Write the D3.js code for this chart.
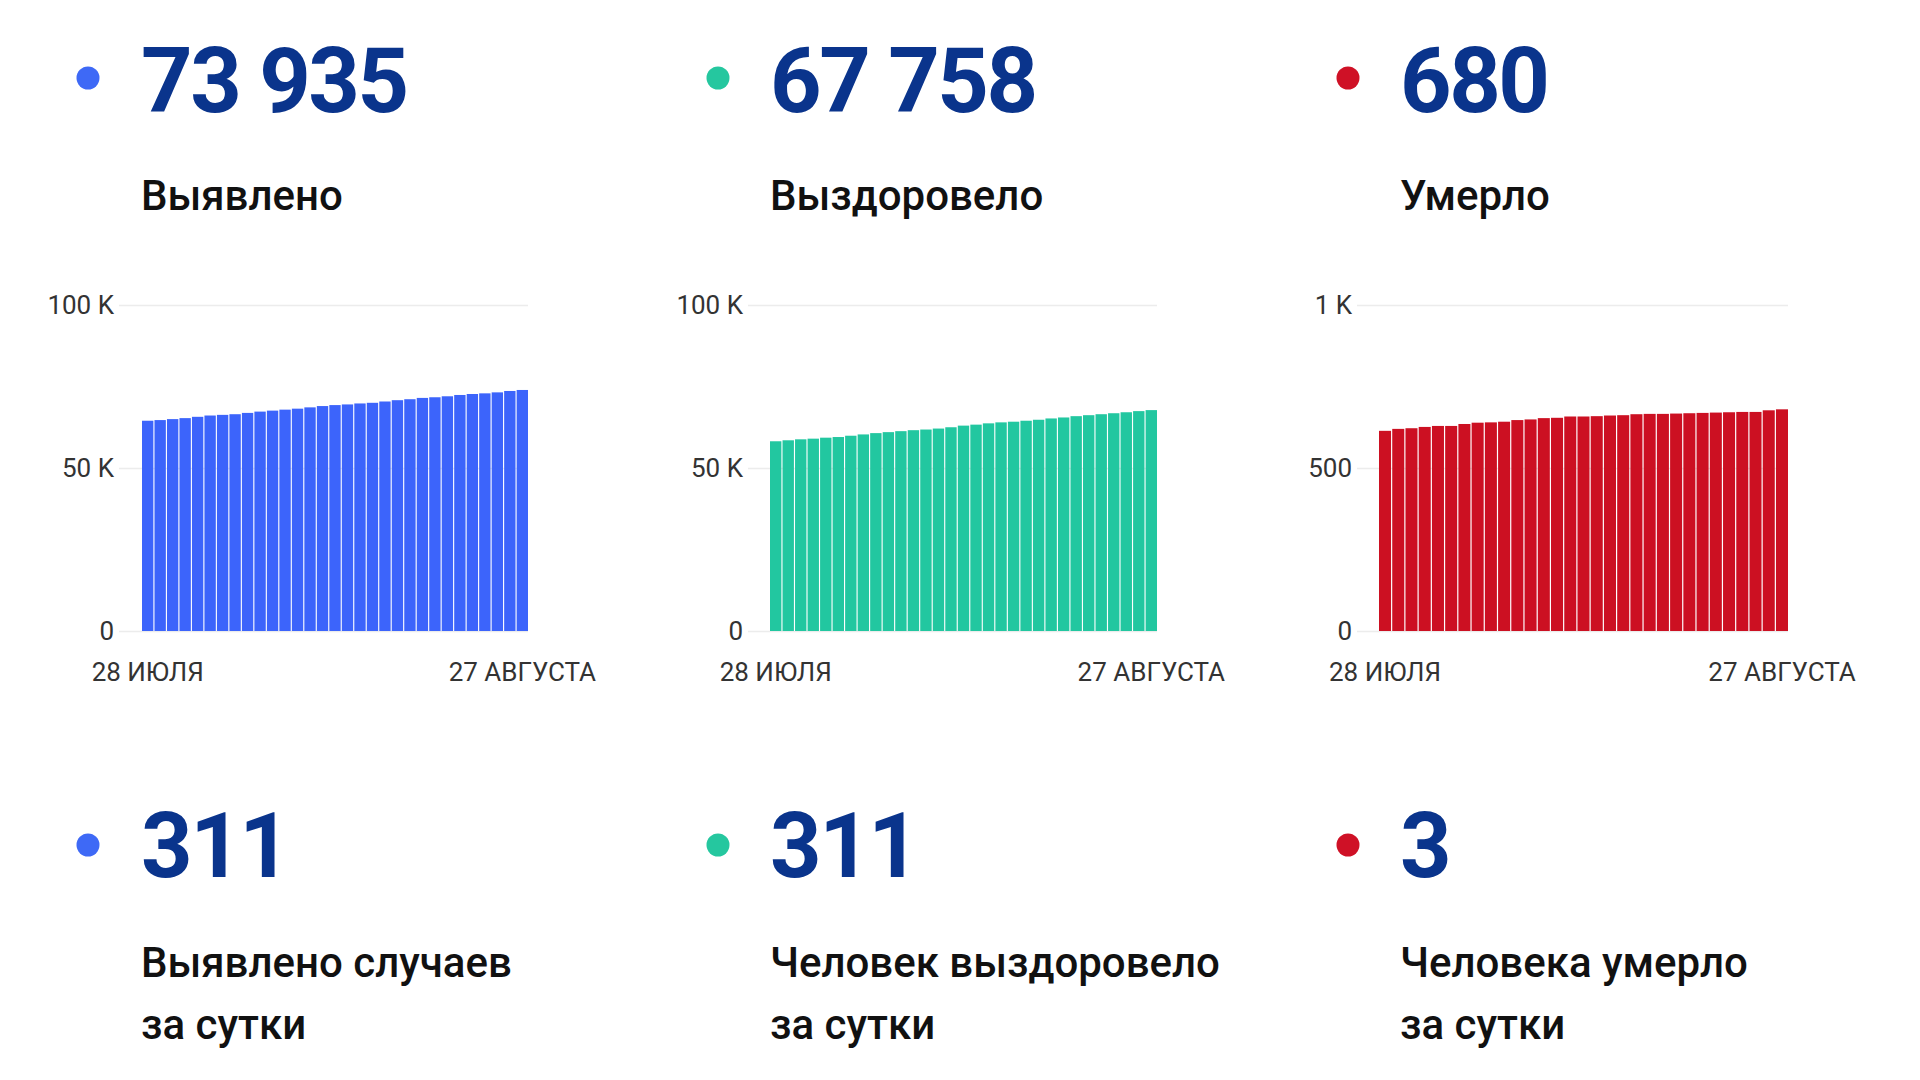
<!DOCTYPE html>
<html><head><meta charset="utf-8">
<script src="https://cdn.jsdelivr.net/npm/d3@7"></script>
<style>
html,body{margin:0;padding:0;background:#fff;}
svg{display:block;font-family:Roboto,"Noto Sans",sans-serif;}
</style></head>
<body>
<svg id="c" width="1920" height="1080"></svg>
<script>
// ---- data ----
const tickLabels = ["28 ИЮЛЯ", "27 АВГУСТА"];
const totals = ["73 935", "67 758", "680"];
const totalLabels = ["Выявлено", "Выздоровело", "Умерло"];
const daily = ["311", "311", "3"];
const dailyLabels = [["Выявлено случаев", "за сутки"], ["Человек выздоровело", "за сутки"], ["Человека умерло", "за сутки"]];
const cases = [64500, 64700, 65000, 65300, 65700, 66100, 66300, 66500, 66900, 67300, 67600, 67900, 68200, 68600, 69000, 69300, 69500, 69800, 70000, 70400, 70800, 71100, 71500, 71700, 72000, 72400, 72700, 72900, 73200, 73624, 73935];
const recovered = [58200, 58500, 58800, 59000, 59300, 59500, 59900, 60300, 60700, 61000, 61300, 61600, 61800, 62100, 62500, 63000, 63300, 63700, 64000, 64200, 64500, 64800, 65200, 65500, 65900, 66200, 66500, 66800, 67100, 67447, 67758];
const deaths = [614, 620, 622, 626, 629, 629, 635, 639, 640, 642, 647, 649, 653, 654, 658, 658, 659, 661, 662, 665, 666, 666, 667, 668, 669, 670, 671, 672, 672, 677, 680];
const yTicks1 = [0, 50000, 100000];
const yTickLabels1 = ["0", "50 K", "100 K"];
const yTicks3 = [0, 500, 1000];
const yTickLabels3 = ["0", "500", "1 K"];

const days = d3.timeDay.range(new Date(2020, 6, 28), new Date(2020, 7, 28));

const svg = d3.select("#c");
const numColor = "#0a348c";
const panels = [
  {series: cases, color: "#3c64fb", dot: "#3e69f6", ticks: yTicks1, tl: yTickLabels1, max: 100000, gx0: 119, bx0: 142, bx1: 528, colX: 141, dotX: 88},
  {series: recovered, color: "#22c7a0", dot: "#25c79f", ticks: yTicks1, tl: yTickLabels1, max: 100000, gx0: 748, bx0: 770, bx1: 1157, colX: 770, dotX: 718},
  {series: deaths, color: "#cc1022", dot: "#cf1126", ticks: yTicks3, tl: yTickLabels3, max: 1000, gx0: 1357, bx0: 1379, bx1: 1788, colX: 1400, dotX: 1348}
];

const y0 = 631, y1 = 305;

panels.forEach((p, i) => {
  // headline numbers
  svg.append("circle").attr("cx", p.dotX).attr("cy", 78).attr("r", 11.5).attr("fill", p.dot);
  svg.append("text").attr("x", p.colX).attr("y", 112).attr("fill", numColor)
    .attr("font-size", 90).attr("font-weight", 700).attr("letter-spacing", -2.5).text(totals[i]);
  svg.append("text").attr("x", p.colX).attr("y", 210).attr("fill", "#111")
    .attr("font-size", 42).attr("font-weight", 500).text(totalLabels[i]);

  // daily numbers
  svg.append("circle").attr("cx", p.dotX).attr("cy", 845).attr("r", 11.5).attr("fill", p.dot);
  svg.append("text").attr("x", p.colX).attr("y", 877).attr("fill", numColor)
    .attr("font-size", 90).attr("font-weight", 700).attr("letter-spacing", -2.5).text(daily[i]);
  dailyLabels[i].forEach((line, j) => {
    svg.append("text").attr("x", p.colX).attr("y", 977 + j * 62).attr("fill", "#111")
      .attr("font-size", 42).attr("font-weight", 500).text(line);
  });

  // chart
  const x = d3.scaleBand().domain(days).range([p.bx0, p.bx1]).paddingInner(0.09).paddingOuter(0);
  const y = d3.scaleLinear().domain([0, p.max]).range([y0, y1]);

  const gy = svg.append("g").attr("transform", `translate(${p.gx0},0)`)
    .call(d3.axisLeft(y).tickValues(p.ticks).tickSize(-(p.bx1 - p.gx0)).tickPadding(5)
      .tickFormat((d, k) => p.tl[k]));
  gy.select(".domain").remove();
  gy.selectAll(".tick line").attr("stroke", "#ececec").attr("stroke-width", 1.5);
  gy.selectAll(".tick text").attr("fill", "#333").attr("font-size", 26).attr("font-family", "Roboto");

  svg.append("g").selectAll("rect").data(p.series).join("rect")
    .attr("x", (d, k) => x(days[k]))
    .attr("width", x.bandwidth())
    .attr("y", d => y(d))
    .attr("height", d => y0 - y(d))
    .attr("fill", p.color);

  const gx = svg.append("g").attr("transform", `translate(0,${y0})`)
    .call(d3.axisBottom(x).tickValues([days[0], days[days.length - 1]]).tickSize(0).tickPadding(32)
      .tickFormat((d, k) => tickLabels[k]));
  gx.select(".domain").remove();
  gx.selectAll(".tick text").attr("fill", "#333").attr("font-size", 26).attr("font-family", "Roboto");
});
</script>
</body></html>
